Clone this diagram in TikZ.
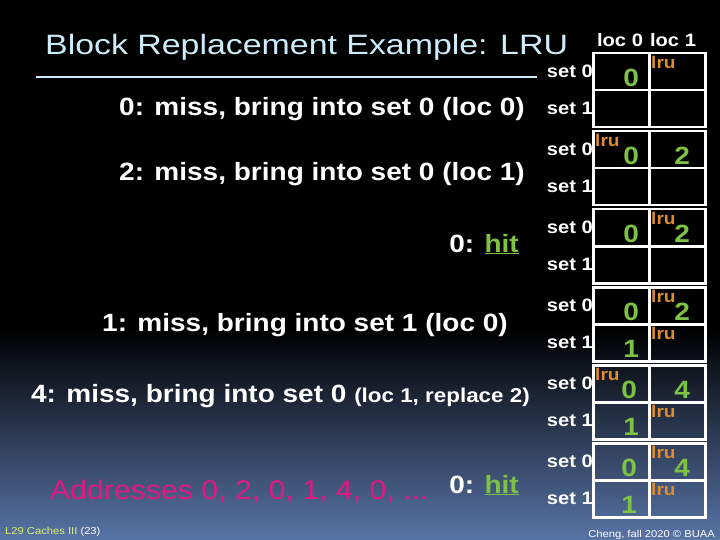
\documentclass[tikz,border=0pt]{standalone}
\usepackage{fontspec}
\setmainfont{Liberation Sans}[FakeStretch=1.12]
\newfontfamily\titlefont{Liberation Sans}[FakeStretch=1.21]
\usetikzlibrary{positioning}
\definecolor{titleblue}{RGB}{204,236,250}
\definecolor{hitgreen}{RGB}{125,194,66}
\definecolor{lruorange}{RGB}{222,140,46}
\definecolor{addrpink}{RGB}{226,24,130}
\definecolor{slidemid}{RGB}{32,42,62}
\definecolor{slideblue}{RGB}{88,116,166}
\definecolor{footyellow}{RGB}{220,240,110}

\newcommand{\hitword}{\textcolor{hitgreen}{\underline{hit}}}

\begin{document}
\begin{tikzpicture}[x=1pt, y=-1pt,
    cell/.style={draw=white, line width=2.5pt, minimum width=56pt, minimum height=37pt, inner sep=0pt, anchor=north west},
    evt/.style={font=\bfseries\fontsize{25pt}{26pt}\selectfont, text=white, inner sep=0pt, anchor=base east},
    setlbl/.style={font=\bfseries\fontsize{18pt}{20pt}\selectfont, text=white, inner sep=0pt, anchor=east},
    blk/.style={font=\bfseries\fontsize{25pt}{26pt}\selectfont, text=hitgreen, inner sep=0pt},
    lrutag/.style={font=\bfseries\fontsize{17pt}{18pt}\selectfont, text=lruorange, inner sep=0pt, anchor=north west},
    foot/.style={font=\fontsize{10pt}{11pt}\selectfont, inner sep=0pt}
  ]
    % background
    \useasboundingbox (0,0) rectangle (720,540);
    \fill[black] (0,0) rectangle (720,330);
    \shade[top color=black, middle color=slidemid, bottom color=slideblue] (0,329) rectangle (720,540);

    % title
    \node[font=\titlefont\fontsize{28pt}{30pt}\selectfont, text=titleblue, inner sep=0pt, anchor=base west] (ttl) at (45,55) {Block Replacement Example: LRU};
    \coordinate (rulel) at (36,77);
    \coordinate (ruler) at (537,77);
    \draw[titleblue, line width=1.5pt] (rulel) -- (ruler);

    % column heads
    \node[font=\bfseries\fontsize{18pt}{20pt}\selectfont, text=white, inner sep=0pt, anchor=base] (loc0) at (620,47) {loc 0};
    \node[font=\bfseries\fontsize{18pt}{20pt}\selectfont, text=white, inner sep=0pt, anchor=base] (loc1) at (673,47) {loc 1};

    % cache grids, one per access
    \foreach \g in {1,...,6} {
      \pgfmathsetmacro{\top}{52+78*(\g-1)}
      \node[cell] (c\g00) at (592,\top) {};
      \node[cell] (c\g01) at (648,\top) {};
      \node[cell] (c\g10) at (592,\top+37) {};
      \node[cell] (c\g11) at (648,\top+37) {};
      \node[setlbl] at ([xshift=1pt]c\g00.west) {set 0};
      \node[setlbl] at ([xshift=1pt]c\g10.west) {set 1};
    }

    % 0: miss
    \node[evt] (e1) at (525,116) {0: miss, bring into set 0 (loc 0)};
    \node[blk] at ([xshift=10pt, yshift=-6pt]c100.center) {0};
    \node[lrutag] at ([xshift=3pt, yshift=-4pt]c101.north west) {lru};

    % 2: miss
    \node[evt] (e2) at (525,181) {2: miss, bring into set 0 (loc 1)};
    \node[blk] at ([xshift=10pt, yshift=-6pt]c200.center) {0};
    \node[blk] at ([xshift=5pt, yshift=-6pt]c201.center) {2};
    \node[lrutag] at ([xshift=3pt, yshift=-4pt]c200.north west) {lru};

    % 0: hit
    \node[evt] (e3) at (519,252) {0: \hitword};
    \node[blk] at ([xshift=10pt, yshift=-6pt]c300.center) {0};
    \node[blk] at ([xshift=5pt, yshift=-6pt]c301.center) {2};
    \node[lrutag] at ([xshift=3pt, yshift=-4pt]c301.north west) {lru};

    % 1: miss
    \node[evt] (e4) at (508,331) {1: miss, bring into set 1 (loc 0)};
    \node[blk] at ([xshift=10pt, yshift=-6pt]c400.center) {0};
    \node[blk] at ([xshift=5pt, yshift=-6pt]c401.center) {2};
    \node[lrutag] at ([xshift=3pt, yshift=-4pt]c401.north west) {lru};
    \node[blk] at ([xshift=10pt, yshift=-6pt]c410.center) {1};
    \node[lrutag] at ([xshift=3pt, yshift=-4pt]c411.north west) {lru};

    % 4: miss, replace
    \node[evt] (e5) at (530,402) {4: miss, bring into set 0 {\fontsize{20pt}{21pt}\selectfont(loc 1, replace 2)}};
    \node[blk] at ([xshift=8pt, yshift=-6pt]c500.center) {0};
    \node[blk] at ([xshift=5pt, yshift=-6pt]c501.center) {4};
    \node[lrutag] at ([xshift=3pt, yshift=-4pt]c500.north west) {lru};
    \node[blk] at ([xshift=10pt, yshift=-6pt]c510.center) {1};
    \node[lrutag] at ([xshift=3pt, yshift=-4pt]c511.north west) {lru};

    % 0: hit again
    \node[font=\fontsize{27pt}{28pt}\selectfont, text=addrpink, inner sep=0pt, anchor=base west] (addr) at (50,499) {Addresses 0, 2, 0, 1, 4, 0, ...};
    \node[evt] (e6) at (519,493) {0: \hitword};
    \node[blk] at ([xshift=8pt, yshift=-6pt]c600.center) {0};
    \node[blk] at ([xshift=5pt, yshift=-6pt]c601.center) {4};
    \node[lrutag] at ([xshift=3pt, yshift=-4pt]c601.north west) {lru};
    \node[blk] at ([xshift=8pt, yshift=-6pt]c610.center) {1};
    \node[lrutag] at ([xshift=3pt, yshift=-4pt]c611.north west) {lru};

    % footer
    \node[foot, anchor=base west] (lec) at (5,534) {\textcolor{footyellow}{L29 Caches III} \textcolor{white}{(23)}};
    \node[foot, text=white, anchor=base east] (cred) at (715,537) {Cheng, fall 2020 © BUAA};
  \end{tikzpicture}
\end{document}
